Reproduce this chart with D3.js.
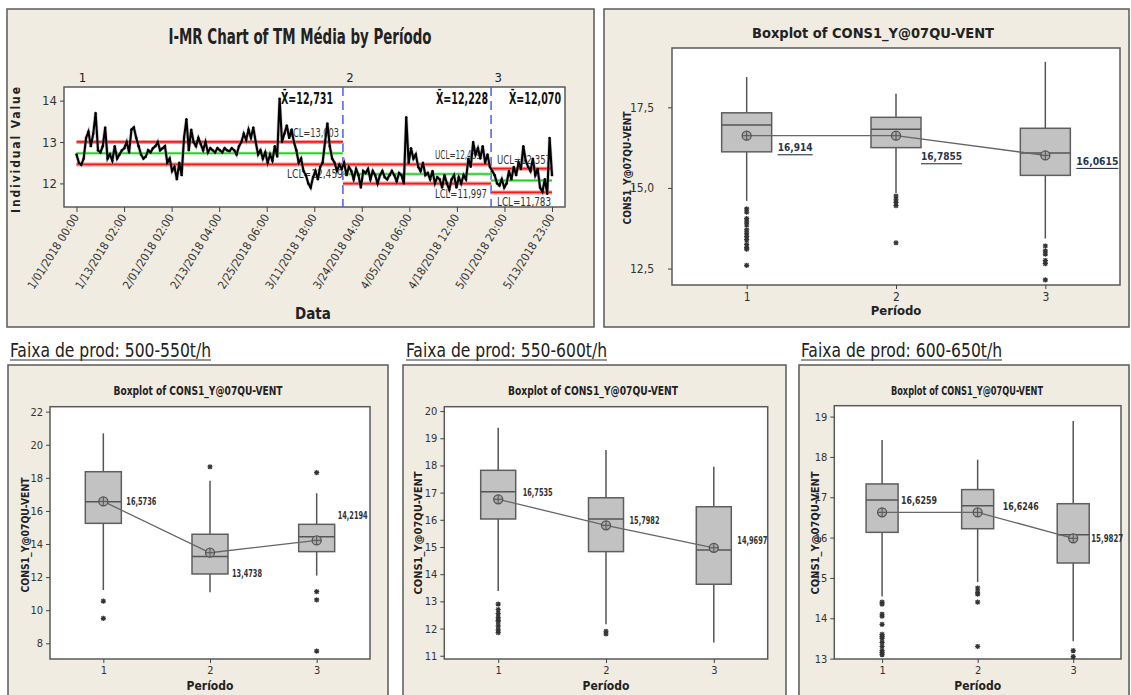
<!DOCTYPE html>
<html><head><meta charset="utf-8">
<script src="https://cdn.jsdelivr.net/npm/d3@7"></script>
<style>
body{margin:0;background:#fff;}
text{font-family:"Liberation Sans Narrow","Arial Narrow","DejaVu Sans Condensed","Liberation Sans",sans-serif;}
</style></head>
<body><svg id="c" width="1131" height="695"></svg>
<script>
// ---------------- DATA ----------------
// I-MR chart
const imrPeriod1 = [12.7,12.5,12.45,12.6,13.1,13.25,12.9,13.2,13.7,12.8,
 12.75,12.9,13.35,12.6,12.7,12.55,12.9,12.6,12.7,12.8,
 12.85,13.0,12.75,13.3,13.35,13.1,12.9,12.7,12.6,12.65,
 12.8,12.75,12.85,12.9,13.0,12.8,12.85,12.9,12.5,12.6,
 12.3,12.4,12.1,12.5,12.2,13.1,13.55,12.8,13.3,13.0,
 12.9,13.1,12.95,12.8,13.0,12.75,12.85,12.8,12.75,12.85,
 12.8,12.75,12.85,12.8,12.78,12.85,12.8,12.7,12.9,13.0,
 13.2,13.05,13.3,13.1,13.35,13.0,12.7,12.8,12.6,12.75,
 12.5,12.7,12.55,12.9,12.65,14.05,13.0,13.2,13.4,13.1,
 13.3,13.0,12.8,12.5,12.6,12.3,12.2,12.0,11.9,12.15,
 12.3,12.1,12.4,12.5,13.0,13.45,12.9,12.6,12.5,12.3,12.45,12.35];
const imrPeriod2 = [12.5,12.2,12.4,12.3,12.1,12.35,12.2,11.9,12.3,12.25,
 12.35,12.1,12.3,12.2,12.0,12.2,12.3,12.15,12.1,12.2,
 12.3,12.2,12.05,12.25,12.2,12.0,13.6,12.5,12.85,12.6,
 12.7,12.4,12.3,12.5,12.2,12.25,12.1,12.3,12.0,12.15,
 12.1,11.9,12.2,12.0,11.85,12.1,12.2,11.9,12.15,12.0,
 12.2,12.1,12.6,12.4,13.0,12.7,12.85,12.6,12.9,12.5,12.7,12.4];
const imrPeriod3 = [12.3,12.2,12.0,11.95,12.1,11.9,12.0,12.3,12.1,12.4,
 12.2,12.5,12.35,12.9,12.55,12.4,12.3,12.6,12.2,12.35,
 11.9,11.8,12.1,11.75,13.1,12.2];
const imrMean = [12.731, 12.228, 12.070];
const imrUCL  = [13.003, 12.459, 12.357];
const imrLCL  = [12.459, 11.997, 11.783];
const imrMeanText = ["X\u0304=12,731","X\u0304=12,228","X\u0304=12,070"];
const imrUCLText = ["UCL=13,003","UCL=12,459","UCL=12,357"];
const imrLCLText = ["LCL=12,459","LCL=11,997","LCL=11,783"];
const imrYTicks = [12, 13, 14];
const imrXTickLabels = ["1/01/2018 00:00","1/13/2018 02:00","2/01/2018 02:00","2/13/2018 04:00","2/25/2018 06:00","3/11/2018 18:00","3/24/2018 04:00","4/05/2018 06:00","4/18/2018 12:00","5/01/2018 20:00","5/13/2018 23:00"];
const periodNames = ["1","2","3"];

// Boxplot: all data (top right)
const allQ1 = [16.12, 16.25, 15.39];
const allMedian = [16.95, 16.82, 16.08];
const allQ3 = [17.33, 17.19, 16.85];
const allWhiskLo = [14.60, 14.84, 13.43];
const allWhiskHi = [18.44, 17.92, 18.91];
const allMean = [16.62, 16.62, 16.01];
const allMeanLabels = ["16,914","16,7855","16,0615"];
const allOutliers = [[14.35,14.25,14.05,13.95,13.85,13.7,13.6,13.5,13.4,13.25,13.15,13.1,12.6],[14.75,14.65,14.55,14.45,13.3],[13.2,13.05,12.95,12.75,12.65,12.15]];
const allTicks = [12.5, 15.0, 17.5];

// Faixa 500-550 t/h
const f500Q1 = [15.25, 12.19, 13.54];
const f500Median = [16.56, 13.24, 14.44];
const f500Q3 = [18.37, 14.59, 15.19];
const f500WhiskLo = [11.22, 11.08, 12.09];
const f500WhiskHi = [20.69, 17.83, 17.07];
const f500Mean = [16.5736, 13.4738, 14.2194];
const f500MeanLabels = ["16,5736","13,4738","14,2194"];
const f500Outliers = [[10.55, 9.51],[18.67],[18.31, 11.12, 10.62, 7.53]];
const f500Ticks = [8,10,12,14,16,18,20,22];

// Faixa 550-600 t/h
const f550Q1 = [16.03, 14.83, 13.63];
const f550Median = [17.03, 16.03, 14.89];
const f550Q3 = [17.82, 16.81, 16.48];
const f550WhiskLo = [13.38, 12.16, 11.49];
const f550WhiskHi = [19.39, 18.57, 17.95];
const f550Mean = [16.7535, 15.7982, 14.9697];
const f550MeanLabels = ["16,7535","15,7982","14,9697"];
const f550Outliers = [[12.9,12.7,12.55,12.4,12.3,12.25,12.1,11.95,11.85],[11.9,11.8],[]];
const f550Ticks = [11,12,13,14,15,16,17,18,19,20];

// Faixa 600-650 t/h
const f600Q1 = [16.13, 16.22, 15.37];
const f600Median = [16.93, 16.79, 16.07];
const f600Q3 = [17.33, 17.19, 16.84];
const f600WhiskLo = [14.54, 14.90, 13.43];
const f600WhiskHi = [18.42, 17.93, 18.89];
const f600Mean = [16.6259, 16.6246, 15.9827];
const f600MeanLabels = ["16,6259","16,6246","15,9827"];
const f600Outliers = [[14.4,14.35,14.1,14.05,13.85,13.6,13.55,13.5,13.4,13.3,13.2,13.15,13.1],[14.75,14.65,14.6,14.4,13.3],[13.2,13.05]];
const f600Ticks = [13,14,15,16,17,18,19];

const boxTitle = "Boxplot of CONS1_Y@07QU-VENT";
const boxYTitle = "CONS1_Y@07QU-VENT";
const boxXTitle = "Período";
const faixaTitles = ["Faixa de prod: 500-550t/h","Faixa de prod: 550-600t/h","Faixa de prod: 600-650t/h"];

// ---------------- DRAW ----------------
const svg = d3.select("#c");
const BG = "#f0ece2", FRAME = "#5a5a5a";
svg.append("rect").attr("width",1131).attr("height",695).attr("fill","#fff");

function panel(x,y,w,h){
  svg.append("rect").attr("x",x).attr("y",y).attr("width",w).attr("height",h)
    .attr("fill",BG).attr("stroke",FRAME).attr("stroke-width",1.5);
}
const comma = f => (v => d3.format(f)(v).replace(".",","));

// ---------- I-MR chart ----------
panel(7,9,587,318);
{
  const g = svg.append("g");
  const all = imrPeriod1.concat(imrPeriod2, imrPeriod3);
  const N = all.length;
  const x = d3.scaleLinear().domain([0, N-1]).range([76.5, 552]);
  const y = d3.scaleLinear().domain([11.43, 14.33]).range([207, 87]);
  const L=64, R=565, T=87, B=207;
  g.append("rect").attr("x",L).attr("y",T).attr("width",R-L).attr("height",B-T).attr("fill","#fff").attr("stroke",FRAME).attr("stroke-width",1.5);

  g.append("text").attr("x",300).attr("y",44).attr("text-anchor","middle").attr("font-size",21).attr("font-weight","bold")
    .attr("textLength",263).attr("lengthAdjust","spacingAndGlyphs").attr("fill","#222").text("I-MR Chart of TM Média by Período");

  const yAx = d3.axisLeft(y).tickValues(imrYTicks).tickSize(4).tickFormat(d3.format("d"));
  g.append("g").attr("transform",`translate(${L},0)`).call(yAx)
    .call(s=>{s.select(".domain").remove(); s.selectAll("text").attr("font-size",13).attr("fill","#333"); s.selectAll("line").attr("stroke","#444");});
  const tickIdx = imrXTickLabels.map((d,i)=> i*(N-1)/(imrXTickLabels.length-1));
  const xAx = d3.axisBottom(x).tickValues(tickIdx).tickSize(5).tickFormat((d,i)=>imrXTickLabels[i]);
  const xg = g.append("g").attr("transform",`translate(0,${B})`).call(xAx);
  xg.select(".domain").remove();
  xg.selectAll("line").attr("stroke","#444");
  xg.selectAll("text").attr("font-size",11.5).attr("fill","#333").attr("text-anchor","end")
    .attr("transform","translate(-1,8) rotate(-58)").attr("dy","0.35em").attr("y",0).attr("x",0)
    .attr("textLength",86).attr("lengthAdjust","spacingAndGlyphs");

  g.append("text").attr("transform","translate(20,150) rotate(-90)").attr("text-anchor","middle").attr("font-size",12).attr("font-weight","bold")
    .attr("textLength",126).attr("lengthAdjust","spacing").attr("fill","#222").text("Individual Value");
  g.append("text").attr("x",313).attr("y",319).attr("text-anchor","middle").attr("font-size",15).attr("font-weight","bold").attr("fill","#222").text("Data");

  const lens = [imrPeriod1.length, imrPeriod2.length, imrPeriod3.length];
  const starts = [0, lens[0], lens[0]+lens[1]];
  const segs = starts.map((s,i)=>[i===0? s : s-0.5, i===2? N-1 : s+lens[i]-0.5]);
  [1,2].forEach(i=>{
    g.append("line").attr("x1",x(segs[i][0])).attr("x2",x(segs[i][0])).attr("y1",T).attr("y2",B)
      .attr("stroke","#4a5cf0").attr("stroke-width",1.5).attr("stroke-dasharray","9,5");
  });
  periodNames.forEach((p,i)=>{
    g.append("text").attr("x",x(starts[i]+2.5)).attr("y",82).attr("text-anchor","middle").attr("font-size",13).attr("fill","#222").text(p);
  });
  const ucLx = [287, 435, 497], mlEnd=[333, 488, 561];
  const uclW = [52, 46, 54], lclW = [56, 52, 54];
  periodNames.forEach((p,i)=>{
    g.append("text").attr("x",ucLx[i]).attr("y",y(imrUCL[i])-5).attr("font-size",12.5).attr("fill","#333")
      .attr("textLength",uclW[i]).attr("lengthAdjust","spacingAndGlyphs").text(imrUCLText[i]);
    g.append("text").attr("x",ucLx[i]).attr("y",y(imrLCL[i])+14).attr("font-size",12.5).attr("fill","#333")
      .attr("textLength",lclW[i]).attr("lengthAdjust","spacingAndGlyphs").text(imrLCLText[i]);
    g.append("text").attr("x",mlEnd[i]).attr("y",104).attr("text-anchor","end").attr("font-size",15).attr("font-weight","bold").attr("fill","#111")
      .attr("textLength",52).attr("lengthAdjust","spacingAndGlyphs").text(imrMeanText[i]);
  });
  segs.forEach((sg,i)=>{
    [imrUCL[i], imrLCL[i]].forEach(v=>{
      g.append("line").attr("x1",x(sg[0])).attr("x2",x(sg[1])).attr("y1",y(v)).attr("y2",y(v)).attr("stroke","#ff9a9a").attr("stroke-width",4);
      g.append("line").attr("x1",x(sg[0])).attr("x2",x(sg[1])).attr("y1",y(v)).attr("y2",y(v)).attr("stroke","#f21c1c").attr("stroke-width",1.8);
    });
    g.append("line").attr("x1",x(sg[0])).attr("x2",x(sg[1])).attr("y1",y(imrMean[i])).attr("y2",y(imrMean[i])).attr("stroke","#9df09d").attr("stroke-width",3);
    g.append("line").attr("x1",x(sg[0])).attr("x2",x(sg[1])).attr("y1",y(imrMean[i])).attr("y2",y(imrMean[i])).attr("stroke","#1fd31f").attr("stroke-width",1.5);
  });
  const line = d3.line().x((d,i)=>x(i)).y(d=>y(d));
  g.append("path").datum(all).attr("d",line).attr("fill","none").attr("stroke","#999").attr("stroke-width",3.5).attr("opacity",0.5);
  g.append("path").datum(all).attr("d",line).attr("fill","none").attr("stroke","#000").attr("stroke-width",2.1);
  g.selectAll("circle.pt").data(all).join("circle").attr("cx",(d,i)=>x(i)).attr("cy",d=>y(d)).attr("r",1.2).attr("fill","#000");
}

// ---------- Boxplots ----------
function boxplot(c){
  panel(...c.panel);
  const g = svg.append("g");
  const [L,T,R,B] = c.plot;
  const x = d3.scaleLinear().domain([0.5,3.5]).range([L,R]);
  const y = d3.scaleLinear().domain(c.domain).range([B,T]);
  g.append("rect").attr("x",L).attr("y",T).attr("width",R-L).attr("height",B-T).attr("fill","#fff").attr("stroke",FRAME).attr("stroke-width",1.5);
  g.append("text").attr("x",c.title[0]).attr("y",c.title[1]).attr("text-anchor","middle").attr("dominant-baseline","central")
    .attr("font-size",c.title[3]).attr("font-weight","bold").attr("textLength",c.title[2]).attr("lengthAdjust","spacingAndGlyphs").attr("fill","#222").text(boxTitle);
  g.append("text").attr("transform",`translate(${c.ylab[0]},${c.ylab[1]}) rotate(-90)`).attr("text-anchor","middle").attr("dominant-baseline","central")
    .attr("font-size",11).attr("font-weight","bold").attr("textLength",c.ylab[2]).attr("lengthAdjust","spacingAndGlyphs").attr("fill","#222").text(boxYTitle);
  g.append("text").attr("x",x(2)).attr("y",c.xlabY).attr("text-anchor","middle").attr("dominant-baseline","central")
    .attr("font-size",c.xlabSize).attr("font-weight","bold").attr("fill","#222").text(boxXTitle);
  const yg = g.append("g").attr("transform",`translate(${L},0)`).call(d3.axisLeft(y).tickValues(c.ticks).tickSize(4).tickPadding(c.pad).tickFormat(c.fmt));
  yg.select(".domain").remove();
  yg.selectAll("line").attr("stroke","#444");
  yg.selectAll("text").attr("font-size",c.tickSize).attr("fill","#333");
  const xg = g.append("g").attr("transform",`translate(0,${B})`).call(d3.axisBottom(x).tickValues([1,2,3]).tickSize(4).tickFormat((d,i)=>periodNames[i]));
  xg.select(".domain").remove();
  xg.selectAll("line").attr("stroke","#444");
  xg.selectAll("text").attr("font-size",c.tickSize).attr("fill","#333");

  const hw = c.halfW;
  periodNames.forEach((p,i)=>{
    const cx = x(i+1);
    g.append("line").attr("x1",cx).attr("x2",cx).attr("y1",y(c.q3[i])).attr("y2",y(c.whi[i])).attr("stroke","#555").attr("stroke-width",1.5);
    g.append("line").attr("x1",cx).attr("x2",cx).attr("y1",y(c.q1[i])).attr("y2",y(c.wlo[i])).attr("stroke","#555").attr("stroke-width",1.5);
    g.append("rect").attr("x",cx-hw).attr("y",y(c.q3[i])).attr("width",2*hw).attr("height",y(c.q1[i])-y(c.q3[i]))
      .attr("fill","#c2c2c2").attr("stroke","#5e5e5e").attr("stroke-width",1.5);
    g.append("line").attr("x1",cx-hw).attr("x2",cx+hw).attr("y1",y(c.med[i])).attr("y2",y(c.med[i])).attr("stroke","#555").attr("stroke-width",1.5);
    c.out[i].forEach(v=>{
      const s=2.6, yy=y(v);
      g.append("path").attr("d",`M${cx},${yy-s}V${yy+s}M${cx-s},${yy}H${cx+s}M${cx-s*0.75},${yy-s*0.75}L${cx+s*0.75},${yy+s*0.75}M${cx-s*0.75},${yy+s*0.75}L${cx+s*0.75},${yy-s*0.75}`)
        .attr("stroke","#333").attr("stroke-width",1.2);
    });
  });
  const ml = d3.line().x((d,i)=>x(i+1)).y(d=>y(d));
  g.append("path").datum(c.mean).attr("d",ml).attr("fill","none").attr("stroke","#666").attr("stroke-width",1.3);
  periodNames.forEach((p,i)=>{
    const cx=x(i+1), cy=y(c.mean[i]);
    g.append("circle").attr("cx",cx).attr("cy",cy).attr("r",4.5).attr("fill","#a8a8a8").attr("stroke","#555").attr("stroke-width",1.3);
    g.append("path").attr("d",`M${cx-4.5},${cy}H${cx+4.5}M${cx},${cy-4.5}V${cy+4.5}`).attr("stroke","#555").attr("stroke-width",1);
    const t = g.append("text").attr("x",cx+hw+c.lblDx[i]).attr("y",cy+c.lblDy[i]).attr("dominant-baseline","central")
      .attr("font-size",c.lblSize).attr("font-weight","bold").attr("fill",c.lblColor)
      .attr("textLength",c.lblW[i]).attr("lengthAdjust","spacingAndGlyphs").text(c.labels[i]);
    if(c.underline) t.attr("text-decoration","underline");
  });
}

boxplot({panel:[604,9,525,318], plot:[672,48,1120,285], domain:[11.99,19.34], ticks:allTicks, fmt:comma(".1f"), pad:14, tickSize:12,
  title:[873,33,242,14], ylab:[627,168,113], xlabY:310, xlabSize:13, halfW:25,
  q1:allQ1, med:allMedian, q3:allQ3, wlo:allWhiskLo, whi:allWhiskHi, mean:allMean, out:allOutliers, labels:allMeanLabels,
  lblDx:[6,0,6], lblDy:[12,21,6], lblSize:11, lblW:[35,41,42], lblColor:"#2a3550", underline:true});

const faixaX = [10, 406, 801];
faixaTitles.forEach((t,i)=>{
  svg.append("text").attr("x",faixaX[i]).attr("y",357).attr("font-size",20).attr("fill","#222")
    .attr("textLength",201).attr("lengthAdjust","spacingAndGlyphs").text(t);
  svg.append("line").attr("x1",faixaX[i]).attr("x2",faixaX[i]+201).attr("y1",360).attr("y2",360).attr("stroke","#333").attr("stroke-width",1.2);
});

boxplot({panel:[8,365,380,340], plot:[50,406.7,370,659], domain:[7.05,22.3], ticks:f500Ticks, fmt:d3.format("d"), pad:3, tickSize:11,
  title:[198,390,169,12.5], ylab:[25,535,115], xlabY:686, xlabSize:12, halfW:18,
  q1:f500Q1, med:f500Median, q3:f500Q3, wlo:f500WhiskLo, whi:f500WhiskHi, mean:f500Mean, out:f500Outliers, labels:f500MeanLabels,
  lblDx:[5,4,3], lblDy:[0,21,-25], lblSize:10, lblW:[30,30,30], lblColor:"#333", underline:false});

boxplot({panel:[403,365,383,340], plot:[444.3,406.7,767.7,659], domain:[10.88,20.16], ticks:f550Ticks, fmt:d3.format("d"), pad:3, tickSize:11,
  title:[593,390,170,12.5], ylab:[418,533,123], xlabY:686, xlabSize:12, halfW:17.5,
  q1:f550Q1, med:f550Median, q3:f550Q3, wlo:f550WhiskLo, whi:f550WhiskHi, mean:f550Mean, out:f550Outliers, labels:f550MeanLabels,
  lblDx:[7,6,6], lblDy:[-7,-5,-7], lblSize:10, lblW:[30,30,30], lblColor:"#333", underline:false});

boxplot({panel:[799,365,330,340], plot:[834.3,405.7,1121,659], domain:[12.99,19.27], ticks:f600Ticks, fmt:d3.format("d"), pad:3, tickSize:11,
  title:[967,390,152,12.5], ylab:[815,533,123], xlabY:686, xlabSize:12, halfW:16,
  q1:f600Q1, med:f600Median, q3:f600Q3, wlo:f600WhiskLo, whi:f600WhiskHi, mean:f600Mean, out:f600Outliers, labels:f600MeanLabels,
  lblDx:[3,9,2], lblDy:[-12,-6,0], lblSize:11, lblW:[36,36,32], lblColor:"#333", underline:false});
</script></body></html>
